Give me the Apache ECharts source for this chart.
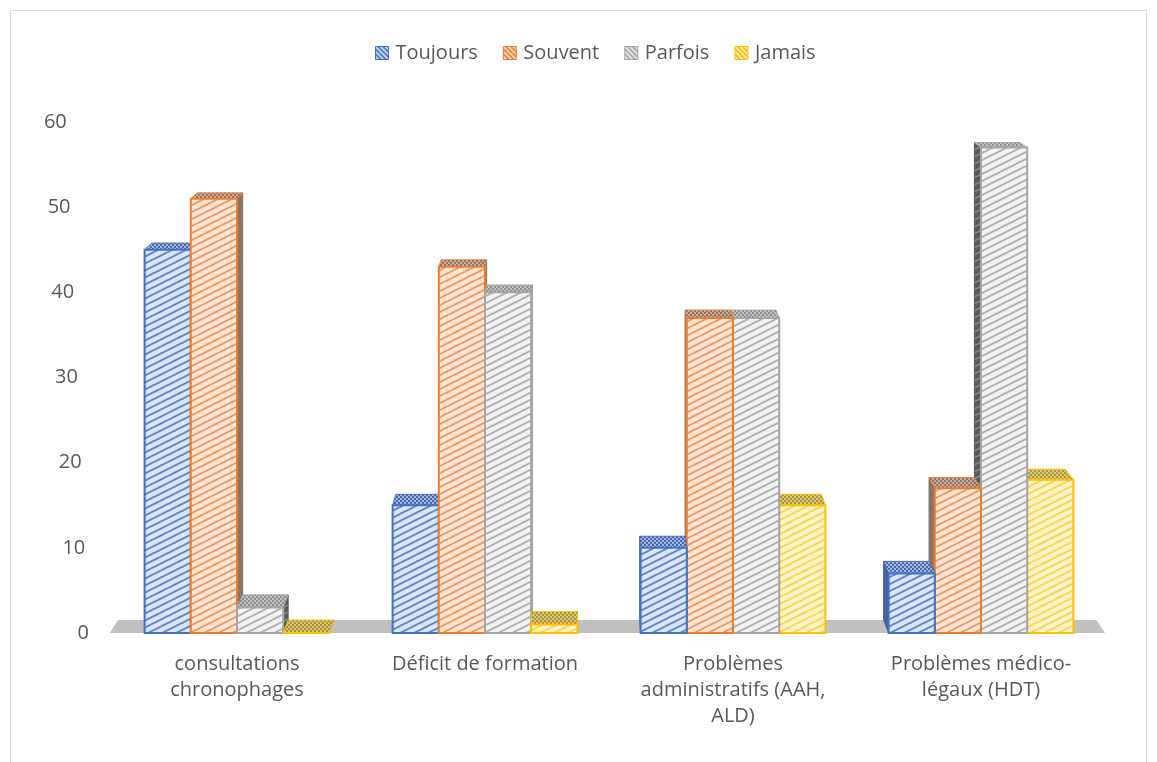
<!DOCTYPE html>
<html>
<head>
<meta charset="utf-8">
<script src="https://cdn.jsdelivr.net/npm/echarts@6/dist/echarts.min.js"></script>
<style>
  html, body { margin: 0; padding: 0; background: #fff; }
  #frame { position: absolute; left: 10px; top: 10px; width: 1137px; height: 800px; border: 1px solid #d9d9d9; box-sizing: border-box; }
  #chart { position: absolute; left: 0; top: 0; width: 1157px; height: 762px; }
</style>
</head>
<body>
<div id="frame"></div>
<div id="chart"></div>
<script>
// Survey answers (%) per difficulty
const categories = [
  'consultations\nchronophages',
  'Déficit de formation',
  'Problèmes\nadministratifs (AAH,\nALD)',
  'Problèmes médico-\nlégaux (HDT)'
];
const seriesNames = ['Toujours', 'Souvent', 'Parfois', 'Jamais'];
const toujours = [45, 15, 10, 7];
const souvent  = [51, 43, 37, 17];
const parfois  = [3, 40, 37, 57];
const jamais   = [0, 1, 15, 18];
const yTicks = [0, 10, 20, 30, 40, 50, 60];

const seriesValues = [toujours, souvent, parfois, jamais];

const FONT = 'Open Sans';
const TEXT = '#595959';

// Palette: edge, pale background, stripe, top face, top dots, side face
const palette = [
  { edge: '#4472c4', bg: '#dce6f5', stripe: '#5f86cf', top: '#9db3df', dots: '#3f62a8', side: '#4a6396' },
  { edge: '#ed7d31', bg: '#fde6d7', stripe: '#f29a5e', top: '#c7a796', dots: '#8d6e5c', side: '#8a776b' },
  { edge: '#a5a5a5', bg: '#f2f2f2', stripe: '#b3b3b3', top: '#bdbdbd', dots: '#8c8c8c', side: '#5c5c5c' },
  { edge: '#ffc000', bg: '#fff4cc', stripe: '#ffd24a', top: '#d8c46a', dots: '#a8903a', side: '#a99648' }
];

// Upward diagonal hatch tile
function stripePattern(bg, line, w, h, lw) {
  const c = document.createElement('canvas');
  c.width = w; c.height = h;
  const g = c.getContext('2d');
  g.fillStyle = bg; g.fillRect(0, 0, w, h);
  g.strokeStyle = line; g.lineWidth = lw;
  for (let k = -1; k <= 1; k++) {
    g.beginPath();
    g.moveTo(-w, 2 * h + k * h);
    g.lineTo(2 * w, -h + k * h);
    g.stroke();
  }
  return { image: c, repeat: 'repeat' };
}
// Downward diagonal hatch tile (legend keys)
function keyPattern(bg, line) {
  const c = document.createElement('canvas');
  c.width = 5; c.height = 5;
  const g = c.getContext('2d');
  g.fillStyle = bg; g.fillRect(0, 0, 5, 5);
  g.strokeStyle = line; g.lineWidth = 1.3;
  for (let k = -1; k <= 1; k++) {
    g.beginPath();
    g.moveTo(-5 + k * 5, -5);
    g.lineTo(10 + k * 5, 10);
    g.stroke();
  }
  return { image: c, repeat: 'repeat' };
}
// Small checker tile for top faces
function dotPattern(bg, dot) {
  const c = document.createElement('canvas');
  c.width = 4; c.height = 4;
  const g = c.getContext('2d');
  g.fillStyle = bg; g.fillRect(0, 0, 4, 4);
  g.fillStyle = dot; g.fillRect(0, 0, 2, 2); g.fillRect(2, 2, 2, 2);
  return { image: c, repeat: 'repeat' };
}

const fills = palette.map(p => ({
  front: stripePattern(p.bg, p.stripe, 14, 7, 2),
  top: dotPattern(p.top, p.dots),
  side: stripePattern(p.side, p.dots, 14, 7, 1.5),
  legend: keyPattern(p.edge, '#ffffff')
}));

// Perspective: depth goes toward a vanishing point above the plot
const DEPTH = 0.0165;

function renderBar(params, api) {
  const s = params.seriesIndex;
  const cat = api.value(0);
  const val = api.value(1);
  const base = api.coord([cat, 0]);
  const top = api.coord([cat, val]);
  const band = api.size([1, 0])[0];
  const bw = band * 0.745 / 4;
  const x0 = base[0] + (s - 2) * bw;
  const x1 = x0 + bw;
  const yT = top[1], yB = base[1];
  const cs = params.coordSys;
  const vp = [cs.x + cs.width * 0.475, cs.y - 277];
  const back = (x, y) => [x + DEPTH * (vp[0] - x), y + DEPTH * (vp[1] - y)];
  const f = fills[s], p = palette[s];
  const order = Math.round(2000 - Math.abs((x0 + x1) / 2 - vp[0])) * 4;
  const children = [];

  // floor slab under the whole plot
  if (s === 0 && params.dataIndex === 0) {
    const fl = cs.x - 3, fr = cs.x + cs.width, fy = cs.y + cs.height;
    children.push({
      type: 'polygon', z2: -100000,
      shape: { points: [[fl, fy], [fr, fy], back(fr, fy), back(fl, fy)] },
      style: { fill: '#c0c0c0' }
    });
  }

  let side = null;
  if (vp[0] > x1) side = x1;
  else if (vp[0] < x0) side = x0;
  if (side !== null) {
    children.push({
      type: 'polygon', z2: order,
      shape: { points: [[side, yT], back(side, yT), back(side, yB), [side, yB]] },
      style: { fill: f.side, stroke: p.side, lineWidth: 1 }
    });
  }
  children.push({
    type: 'polygon', z2: order + 1,
    shape: { points: [[x0, yT], [x1, yT], back(x1, yT), back(x0, yT)] },
    style: { fill: f.top, stroke: p.edge, lineWidth: 1, opacity: 0.95 }
  });
  if (yB - yT > 0.5) {
    children.push({
      type: 'rect', z2: order + 2,
      shape: { x: x0, y: yT, width: bw, height: yB - yT },
      style: { fill: f.front, stroke: p.edge, lineWidth: 2 }
    });
  } else {
    children.push({
      type: 'line', z2: order + 2,
      shape: { x1: x0, y1: yB, x2: x1, y2: yB },
      style: { stroke: p.edge, lineWidth: 2 }
    });
  }
  return { type: 'group', children };
}

const chart = echarts.init(document.getElementById('chart'), null, { renderer: 'canvas' });

// value labels drift right toward the base, following the wall's slant
const labelStyles = {};
yTicks.forEach(v => {
  labelStyles['t' + v] = { padding: [0, v / 10 * 3.7, 0, 0], fontSize: 20, color: TEXT, fontFamily: FONT };
});

chart.setOption({
  animation: false,
  textStyle: { fontFamily: FONT },
  legend: {
    top: 38,
    left: 370,
    itemWidth: 13,
    itemHeight: 13,
    itemGap: 25,
    textStyle: { fontSize: 20, color: TEXT, fontFamily: FONT, padding: [0, 0, 0, 2] },
    data: seriesNames.map((n, i) => ({
      name: n,
      icon: 'rect',
      itemStyle: { color: fills[i].legend, borderColor: palette[i].edge, borderWidth: 1 }
    }))
  },
  grid: { left: 113, right: 52, top: 122, bottom: 129 },
  xAxis: {
    type: 'category',
    data: categories,
    axisLine: { show: false },
    axisTick: { show: false },
    axisLabel: { interval: 0, fontSize: 20, color: TEXT, lineHeight: 26, margin: 18, fontFamily: FONT }
  },
  yAxis: {
    type: 'value',
    min: yTicks[0],
    max: yTicks[yTicks.length - 1],
    interval: yTicks[1] - yTicks[0],
    axisLine: { show: false },
    axisTick: { show: false },
    splitLine: { show: false },
    axisLabel: {
      margin: 24,
      formatter: v => '{t' + v + '|' + v + '}',
      rich: labelStyles
    }
  },
  series: seriesNames.map((n, i) => ({
    name: n,
    type: 'custom',
    renderItem: renderBar,
    itemStyle: { color: palette[i].edge },
    encode: { x: 0, y: 1 },
    data: seriesValues[i].map((v, c) => [c, v])
  }))
});
</script>
</body>
</html>
